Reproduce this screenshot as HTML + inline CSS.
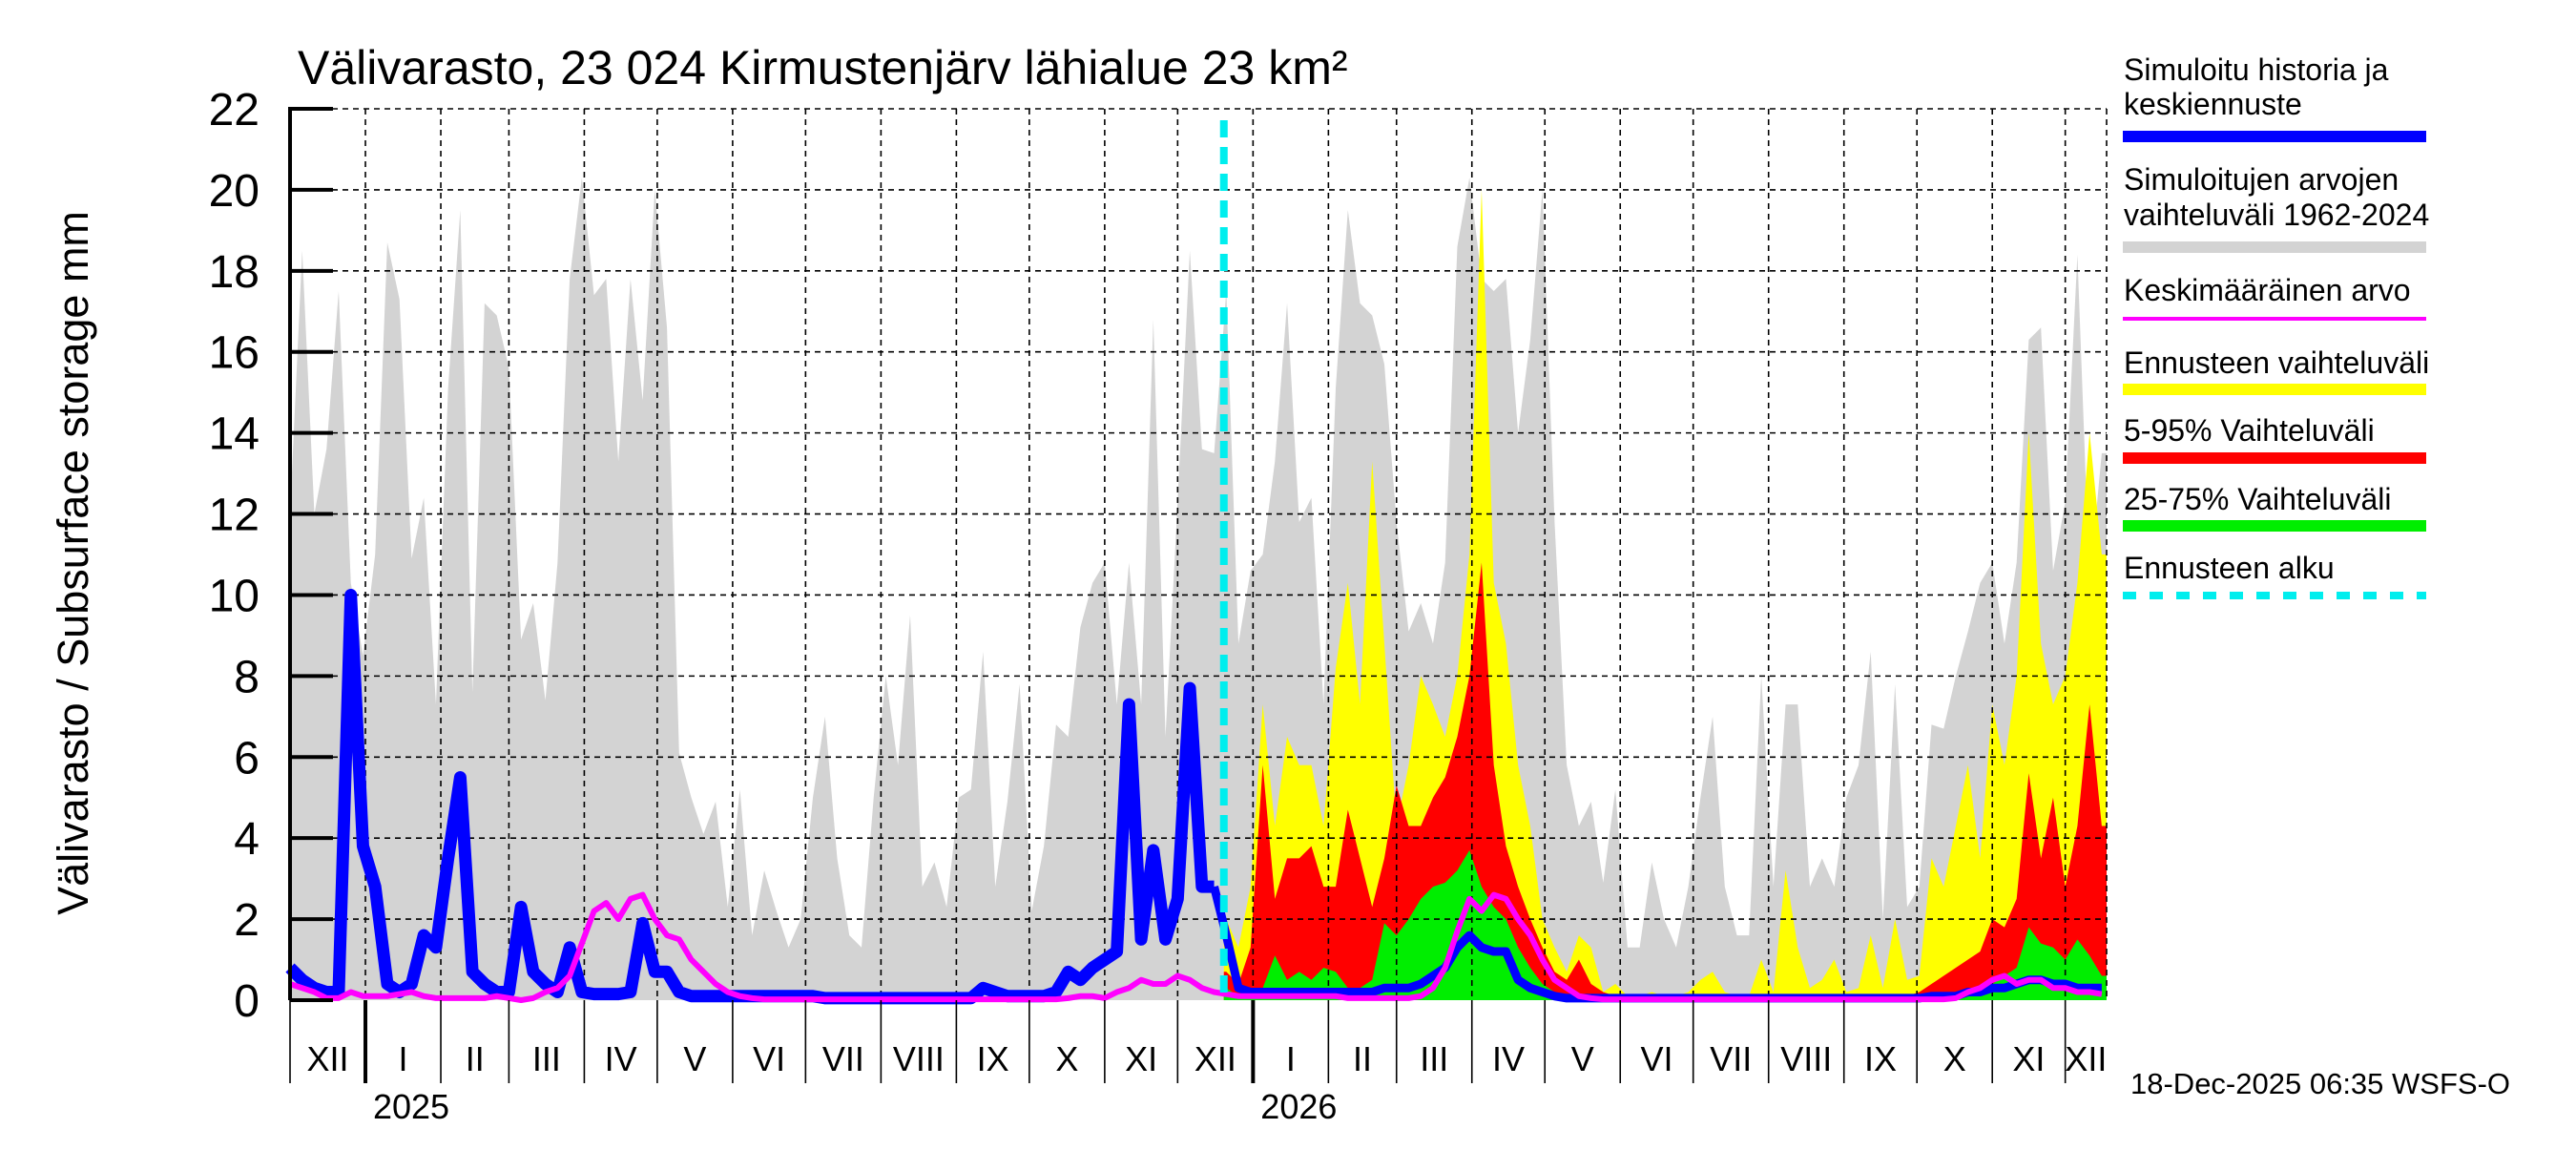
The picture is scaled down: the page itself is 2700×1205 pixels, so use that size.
<!DOCTYPE html>
<html><head><meta charset="utf-8">
<style>
html,body{margin:0;padding:0;background:#fff;}
svg text{font-family:"Liberation Sans",Arial,sans-serif;}
</style></head>
<body>
<svg id="chart" width="2700" height="1200" viewBox="0 0 2700 1200" xmlns="http://www.w3.org/2000/svg">
<rect x="0" y="0" width="2700" height="1200" fill="#fff"/>
<g id="gray-layer"></g>
<g id="fc-layer"></g>
<g id="grid-layer"></g>
<g id="line-layer"></g>
<g id="axis-layer"></g>
<text x="312" y="88" font-size="50">Välivarasto, 23 024 Kirmustenjärv lähialue 23 km²</text>
<text transform="translate(92,590) rotate(-90)" text-anchor="middle" font-size="45">Välivarasto / Subsurface storage  mm</text>
<g font-size="32">
<text x="2226" y="84">Simuloitu historia ja</text>
<text x="2226" y="120">keskiennuste</text>
<rect x="2225" y="137" width="318" height="12" fill="#0000ff"/>
<text x="2226" y="199">Simuloitujen arvojen</text>
<text x="2226" y="236">vaihteluväli 1962-2024</text>
<rect x="2225" y="253" width="318" height="12" fill="#d3d3d3"/>
<text x="2226" y="315">Keskimääräinen arvo</text>
<rect x="2225" y="332" width="318" height="4" fill="#ff00ff"/>
<text x="2226" y="391">Ennusteen vaihteluväli</text>
<rect x="2225" y="402" width="318" height="12" fill="#ffff00"/>
<text x="2226" y="462">5-95% Vaihteluväli</text>
<rect x="2225" y="474" width="318" height="12" fill="#ff0000"/>
<text x="2226" y="534">25-75% Vaihteluväli</text>
<rect x="2225" y="545" width="318" height="12" fill="#00ee00"/>
<text x="2226" y="606">Ennusteen alku</text>
<line x1="2225" y1="624" x2="2543" y2="624" stroke="#00eeee" stroke-width="8" stroke-dasharray="14,14"/>
</g>
<text x="2233" y="1146" font-size="31">18-Dec-2025 06:35 WSFS-O</text>
</svg>
<script>
// data, 5-day steps starting 2024-12-01 (day 0)
const grayMax = [12,18.5,12,13.6,17.5,10.3,8.5,11,18.7,17.3,10.9,12.4,7.3,15.1,19.5,7.6,17.2,16.9,15.6,8.9,9.8,7.4,10.8,17.8,20.3,17.4,17.8,13.3,17.8,14.8,20,16.6,6.1,5,4.1,4.9,2.3,5.2,1.6,3.2,2.2,1.3,2,5,7,3.5,1.6,1.3,5,8,5.8,9.5,2.8,3.4,2.3,5,5.2,8.6,2.8,4.9,7.8,2.2,3.8,6.8,6.5,9.2,10.3,10.8,7.3,10.8,7.3,16.8,6.5,12.3,18.5,13.6,13.5,17.5,8.8,10.6,11,13.3,17.2,11.8,12.4,7.3,15.1,19.5,17.2,16.9,15.7,11.8,9.1,9.8,8.8,10.8,18.6,20.3,17.8,17.5,17.8,14,16.3,20,11.8,5.8,4.3,4.9,2.9,5.2,1.3,1.3,3.4,2,1.3,2.8,5,7,2.8,1.6,1.6,8,2.8,7.3,7.3,2.8,3.5,2.8,5,5.8,8.6,2,7.8,2.3,2.8,6.8,6.7,8,9.1,10.3,10.8,8.8,10.8,16.3,16.6,10.6,12.3,18.4,10.3,13.5];
const blueSim = [0.8,0.5,0.3,0.2,0.2,10,3.8,2.8,0.4,0.2,0.4,1.6,1.3,3.5,5.5,0.7,0.4,0.2,0.2,2.3,0.7,0.4,0.2,1.3,0.2,0.15,0.15,0.15,0.2,1.9,0.7,0.7,0.2,0.1,0.1,0.1,0.1,0.1,0.1,0.1,0.1,0.1,0.1,0.1,0.05,0.05,0.05,0.05,0.05,0.05,0.05,0.05,0.05,0.05,0.05,0.05,0.05,0.3,0.2,0.1,0.1,0.1,0.1,0.2,0.7,0.5,0.8,1,1.2,7.3,1.5,3.7,1.5,2.5,7.7,2.8,2.8,1.6,0.3,0.2,0.2,0.2,0.2,0.2,0.2,0.2,0.2,0.2,0.2,0.2,0.3,0.3,0.3,0.4,0.6,0.8,1.3,1.6,1.3,1.2,1.2,0.5,0.3,0.2,0.1,0.05,0.05,0.05,0.05,0.05,0.05,0.05,0.05,0.05,0.05,0.05,0.05,0.05,0.05,0.05,0.05,0.05,0.05,0.05,0.05,0.05,0.05,0.05,0.05,0.05,0.05,0.05,0.05,0.05,0.05,0.1,0.1,0.1,0.2,0.2,0.3,0.3,0.4,0.5,0.5,0.4,0.4,0.3,0.3,0.3];
const meanVal = [0.4,0.3,0.2,0.05,0.05,0.2,0.1,0.1,0.1,0.15,0.2,0.1,0.05,0.05,0.05,0.05,0.05,0.1,0.05,0,0.05,0.2,0.3,0.6,1.4,2.2,2.4,2.0,2.5,2.6,2.0,1.6,1.5,1.0,0.7,0.4,0.2,0.1,0.05,0.02,0.02,0.02,0.02,0.02,0.02,0.02,0.02,0.02,0.02,0.02,0.02,0.02,0.02,0.02,0.02,0.02,0.02,0.02,0.02,0.02,0.02,0.02,0.02,0.02,0.05,0.1,0.1,0.05,0.2,0.3,0.5,0.4,0.4,0.6,0.5,0.3,0.2,0.15,0.1,0.1,0.1,0.1,0.1,0.1,0.1,0.1,0.1,0.05,0.05,0.05,0.05,0.05,0.05,0.1,0.3,0.8,1.7,2.5,2.2,2.6,2.5,2.0,1.6,1.0,0.5,0.3,0.1,0.05,0.02,0.02,0.02,0.02,0.02,0.02,0.02,0.02,0.02,0.02,0.02,0.02,0.02,0.02,0.02,0.02,0.02,0.02,0.02,0.02,0.02,0.02,0.02,0.02,0.02,0.02,0.02,0.02,0.02,0.05,0.2,0.3,0.5,0.6,0.4,0.5,0.5,0.3,0.3,0.2,0.2,0.15];
// forecast bands, 5-day steps starting day 385
const fcYellow = [2,1.3,2.8,7.3,4.3,6.5,5.8,5.8,4.3,8.2,10.3,7.3,13.3,8.8,4.3,5.8,8,7.3,6.5,8,11,20,10.3,8.8,5.8,4.3,2,1.3,0.7,1.6,1.3,0.2,0.4,0.1,0.1,0.2,0.1,0.1,0.2,0.5,0.7,0.2,0.1,0.1,1,0.2,3.2,1.3,0.3,0.5,1,0.2,0.3,1.6,0.3,2,0.5,0.6,3.5,2.8,4.3,5.8,3.5,7.3,5.8,8,14,8.8,7.3,8,10.3,14,11];
const fcRed = [0.7,0.4,1.3,5.8,2.5,3.5,3.5,3.8,2.8,2.8,4.7,3.5,2.3,3.5,5.3,4.3,4.3,5,5.5,6.5,8,10.8,5.8,3.8,2.8,2,1.3,0.7,0.5,1,0.4,0.2,0.1,0.05,0.05,0.05,0.05,0.05,0.05,0.05,0.05,0.05,0.05,0.05,0.05,0.05,0.05,0.05,0.05,0.05,0.05,0.05,0.05,0.05,0.05,0.05,0.1,0.2,0.4,0.6,0.8,1.0,1.2,2.0,1.8,2.5,5.6,3.5,5,2.8,4.3,7.3,4.3];
const fcGreen = [0.3,0.1,0.3,0.3,1.1,0.5,0.7,0.5,0.8,0.7,0.3,0.3,0.5,1.9,1.6,2,2.5,2.8,2.9,3.2,3.7,2.8,2.3,2,1.3,0.8,0.4,0.2,0.1,0.1,0.05,0.05,0.05,0.05,0.05,0.05,0.05,0.05,0.05,0.05,0.05,0.05,0.05,0.05,0.05,0.05,0.05,0.05,0.05,0.05,0.05,0.05,0.05,0.05,0.05,0.05,0.05,0.05,0.05,0.05,0.1,0.15,0.2,0.4,0.6,0.8,1.8,1.4,1.3,1.0,1.5,1.1,0.6];
const yTicks = [0,2,4,6,8,10,12,14,16,18,20,22];
const monthLabels = ["XII","I","II","III","IV","V","VI","VII","VIII","IX","X","XI","XII","I","II","III","IV","V","VI","VII","VIII","IX","X","XI","XII"];
const monthDays = [31,31,28,31,30,31,30,31,31,30,31,30,31,31,28,31,30,31,30,31,31,30,31,30,31];
const yearLabels = ["2025","2026"];
const STEP = 5, FC_START = 384, FC_FIRST = 385, DAY_MAX = 747, HIST_END_IDX = 76;

const X0 = 304, X1 = 2208, Y0 = 1048, Y22 = 114;
const xs = d => X0 + d * (X1 - X0) / DAY_MAX;
const ys = v => Y0 - v * (Y0 - Y22) / 22;
const NS = "http://www.w3.org/2000/svg";
function mk(tag, attrs, parent){const e=document.createElementNS(NS,tag);for(const k in attrs)e.setAttribute(k,attrs[k]);parent.appendChild(e);return e;}
const gGray=document.getElementById('gray-layer'),gFc=document.getElementById('fc-layer'),gGrid=document.getElementById('grid-layer'),gLine=document.getElementById('line-layer'),gAxis=document.getElementById('axis-layer');

let p = `M${xs(0)},${ys(0)} `;
grayMax.forEach((v,i)=>{p+=`L${xs(i*STEP)},${ys(v)} `;});
p += `L${xs(DAY_MAX)},${ys(grayMax[grayMax.length-1])} L${xs(DAY_MAX)},${ys(0)} Z`;
const ga = mk('path',{d:p,fill:'#d3d3d3'},gGray);



function band(arr,color,name){
  let s=`M${xs(FC_START)},${ys(0)} L${xs(FC_START)},${ys(arr[0])} `;
  arr.forEach((v,i)=>{s+=`L${xs(FC_FIRST+i*STEP)},${ys(v)} `;});
  s+=`L${xs(DAY_MAX)},${ys(arr[arr.length-1])} L${xs(DAY_MAX)},${ys(0)} Z`;
  const e=mk('path',{d:s,fill:color},gFc);
  
  
}
band(fcYellow,'#ffff00','forecast-range-area');
band(fcRed,'#ff0000','forecast-5-95-area');
band(fcGreen,'#00ee00','forecast-25-75-area');

yTicks.forEach(v=>{
  if(v===0) return;
  const l=mk('line',{x1:X0,x2:X1,y1:ys(v),y2:ys(v),stroke:'#000','stroke-width':1.6,'stroke-dasharray':'6,5'},gGrid);
  
  
});
let d=0;
monthDays.forEach((len,i)=>{
  const xa=xs(d), xb=xs(Math.min(d+len,DAY_MAX));
  if(i>0){
    const gl=mk('line',{x1:xa,x2:xa,y1:Y22,y2:Y0,stroke:'#000','stroke-width':1.6,'stroke-dasharray':'6,5'},gGrid);
    
    
  }
  const isYear = (monthLabels[i]==="I");
  const t=mk('line',{x1:xa,x2:xa,y1:Y0,y2:1135,stroke:'#000','stroke-width':isYear?4:1.6},gAxis);
  
  
  const tx=mk('text',{x:(xa+xb)/2,y:1122,'text-anchor':'middle','font-size':36},gAxis);
  tx.textContent=monthLabels[i];
  
  
  d+=len;
});
const rb=mk('line',{x1:X1,x2:X1,y1:Y22,y2:Y0,stroke:'#000','stroke-width':1.6,'stroke-dasharray':'6,5'},gGrid);


[31,396].forEach((yd,i)=>{
  const t=mk('text',{x:xs(yd)+48,y:1172,'text-anchor':'middle','font-size':36},gAxis);
  t.textContent=yearLabels[i];
  
  
});

const ax=mk('line',{x1:X0,x2:X0,y1:Y22-2,y2:Y0,stroke:'#000','stroke-width':4},gAxis);


yTicks.forEach(v=>{
  const tk=mk('line',{x1:X0,x2:X0+45,y1:ys(v),y2:ys(v),stroke:'#000','stroke-width':4},gAxis);
  
  
  const t=mk('text',{x:272,y:ys(v)+17,'text-anchor':'end','font-size':48},gAxis);
  t.textContent=String(v);
  
  
});

function poly(arr,startDay,from,to){
  const pts=[];for(let i=from;i<=to;i++)pts.push(`${xs(startDay+i*STEP)},${ys(arr[i])}`);return pts.join(' ');
}
const bh=mk('polyline',{points:poly(blueSim,0,0,HIST_END_IDX),fill:'none',stroke:'#0000ff','stroke-width':13,'stroke-linejoin':'round'},gLine);


const bf=mk('polyline',{points:poly(blueSim,0,HIST_END_IDX,blueSim.length-1),fill:'none',stroke:'#0000ff','stroke-width':9,'stroke-linejoin':'round'},gLine);


const mg=mk('polyline',{points:poly(meanVal,0,0,meanVal.length-1),fill:'none',stroke:'#ff00ff','stroke-width':6,'stroke-linejoin':'round'},gLine);


const cy=mk('line',{x1:xs(FC_START),x2:xs(FC_START),y1:126,y2:Y0,stroke:'#00eeee','stroke-width':8,'stroke-dasharray':'18,10'},gLine);


</script>
</body></html>
